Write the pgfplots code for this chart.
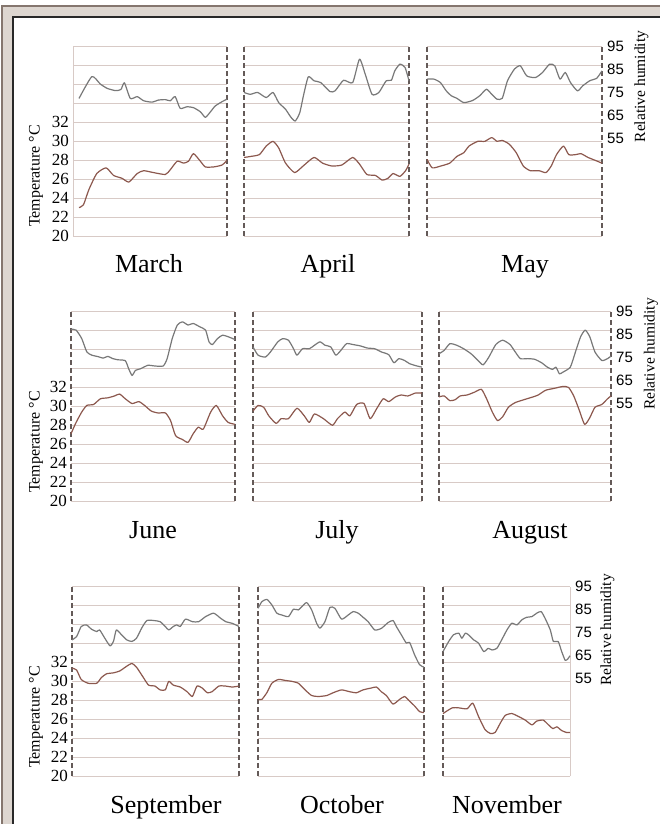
\documentclass[border=0pt]{standalone}
\usepackage{fontspec}
\setmainfont{Liberation Serif}
\newfontfamily\sansf{Liberation Sans}
\usepackage{pgfplots}
\pgfplotsset{compat=1.18}
\definecolor{gridc}{RGB}{216,202,198}
\definecolor{tempc}{RGB}{140,88,78}
\definecolor{humc}{RGB}{120,120,120}
\definecolor{dashc}{RGB}{100,90,88}
\definecolor{framebrown}{RGB}{133,118,110}
\definecolor{framebeige}{RGB}{221,214,208}
\definecolor{framedark}{RGB}{40,40,40}
\tikzset{
  dline/.style={dashc, line width=1.1bp, dash pattern=on 5bp off 3bp},
  tline/.style={tempc, line width=1.2bp, smooth, tension=0.35, line join=round},
  hline/.style={humc, line width=1.2bp, smooth, tension=0.35, line join=round},
}
\pgfplotsset{
  base/.style={scale only axis, height=189.3bp, anchor=north west, axis line style={draw=none}, xtick=\empty, major tick length=0pt, clip=false, /pgf/number format/assume math mode=true},
  tax/.style={base, ymin=20, ymax=40, ytick={20,22,...,40}, yticklabels={}, ymajorgrids, grid style={gridc, line width=0.9bp}},
  tleft/.style={yticklabels={20,22,24,26,28,30,32,{},{},{},{}}, yticklabel style={font=\fontsize{17bp}{17bp}\selectfont, inner sep=0pt, anchor=east, xshift=-4bp}},
  hax/.style={base, ymin=12.7, ymax=95, ytick=\empty},
  hright/.style={ytick={55,65,75,85,95}, yticklabels={55,65,75,85,95}, yticklabel pos=right, yticklabel style={font=\sansf\fontsize{15bp}{15bp}\selectfont, inner sep=0pt, anchor=west, xshift=5bp}},
}
\newcommand{\leftdash}{\draw[dline] (rel axis cs:0,0) -- (rel axis cs:0,1);}
\newcommand{\rightdash}{\draw[dline] (rel axis cs:1,0) -- (rel axis cs:1,1);}
\newcommand{\monthfont}{\fontsize{26bp}{26bp}\selectfont}
\newcommand{\labfont}{\fontsize{16bp}{16bp}\selectfont}
\newcommand{\rhfont}{\fontsize{15.5bp}{15.5bp}\selectfont}
\begin{document}
\begin{tikzpicture}
\path[use as bounding box] (0,0) rectangle (660bp,-824bp);
\fill[white] (0,0) rectangle (660bp,-824bp);
\fill[framebrown] (1bp,-5bp) rectangle (660bp,-824bp);
\fill[framebeige] (3.3bp,-7.3bp) rectangle (660bp,-824bp);
\fill[framedark] (12.3bp,-16bp) rectangle (660bp,-824bp);
\fill[white] (14.3bp,-18bp) rectangle (660bp,-824bp);

% ---------------- March
\begin{axis}[tax, tleft, at={(73bp,-46.7bp)}, width=154bp, xmin=-0.22, xmax=31]
\draw[gridc, line width=0.9bp] (rel axis cs:0,0) -- (rel axis cs:0,1);
\rightdash
\addplot[tline] coordinates {(1,23.0) (1.9,23.3) (3.0,24.9) (4.6,26.6) (6.5,27.2) (8.0,26.4) (9.7,26.1) (11.1,25.7) (12.8,26.6) (14.1,26.9) (16.1,26.7) (18.5,26.5) (19.5,27.0) (20.9,27.9) (22.2,27.7) (23.2,27.9) (24.2,28.7) (25.6,27.9) (26.6,27.3) (28.3,27.3) (30.0,27.5) (31,28.0)};
\end{axis}
\begin{axis}[hax, at={(73bp,-46.7bp)}, width=154bp, xmin=-0.22, xmax=31]
\addplot[hline] coordinates {(1,72.5) (3.6,82.0) (5.3,78.8) (6.7,76.9) (8.4,75.9) (9.5,76.4) (10.2,79.3) (11.4,72.5) (12.8,73.3) (14.1,71.5) (15.8,70.9) (17.1,71.8) (18.5,72.0) (19.5,71.5) (20.5,73.3) (21.5,68.2) (22.9,68.9) (24.2,68.5) (25.6,66.7) (26.6,64.3) (27.5,66.3) (28.6,69.2) (30.0,71.1) (31,72.2)};
\end{axis}

% ---------------- April
\begin{axis}[tax, at={(244bp,-46.7bp)}, width=165bp, xmin=1, xmax=30]
\leftdash \rightdash
\addplot[tline] coordinates {(1.0,28.3) (2.1,28.4) (3.7,28.6) (4.9,29.5) (6.1,30.0) (7.1,29.3) (8.3,27.7) (9.9,26.7) (11.4,27.4) (13.3,28.3) (14.8,27.7) (16.4,27.4) (18.2,27.5) (20.1,28.3) (21.3,27.6) (22.6,26.5) (24.1,26.4) (25.3,25.9) (26.3,26.1) (27.2,26.6) (28.4,26.3) (29.4,26.9) (30.0,27.6)};
\end{axis}
\begin{axis}[hax, at={(244bp,-46.7bp)}, width=165bp, xmin=1, xmax=30]
\addplot[hline] coordinates {(1.0,75.1) (2.1,74.3) (3.4,75.1) (4.9,72.9) (6.1,75.1) (7.1,70.7) (8.3,67.8) (9.2,64.5) (10.0,62.7) (10.8,66.3) (11.5,74.3) (12.3,81.9) (13.3,80.2) (14.5,79.4) (16.1,75.5) (17.0,75.8) (18.5,80.4) (20.1,79.4) (21.3,89.6) (22.3,83.1) (23.5,74.3) (24.7,75.1) (26.0,80.2) (26.9,80.4) (27.5,84.5) (28.4,87.4) (29.3,86.0) (30.0,80.2)};
\end{axis}

% ---------------- May
\begin{axis}[tax, at={(427bp,-46.7bp)}, width=175bp, xmin=1, xmax=31]
\leftdash \rightdash
\addplot[tline] coordinates {(1.0,28.1) (1.9,27.2) (3.4,27.4) (4.9,27.7) (6.1,28.4) (7.3,28.8) (8.2,29.5) (9.7,30.0) (10.9,30.0) (12.1,30.4) (13.0,30.0) (13.9,30.1) (15.1,29.7) (16.3,28.8) (17.5,27.4) (18.7,26.9) (20.2,26.9) (21.4,26.7) (22.3,27.4) (23.2,28.6) (24.4,29.5) (25.3,28.6) (26.5,28.6) (27.4,28.7) (28.6,28.3) (29.8,28.0) (31.0,27.7)};
\end{axis}
\begin{axis}[hax, hright, at={(427bp,-46.7bp)}, width=175bp, xmin=1, xmax=31]
\addplot[hline] coordinates {(1.0,80.9) (2.2,80.9) (3.3,79.4) (4.3,75.8) (5.2,73.6) (6.1,72.6) (7.3,70.7) (8.8,71.6) (10.0,73.6) (11.2,76.5) (12.1,74.3) (13.0,72.2) (13.9,72.6) (14.8,80.2) (16.0,85.3) (17.0,86.7) (18.1,82.3) (19.6,81.6) (20.8,83.8) (22.0,87.4) (22.9,86.7) (23.8,80.9) (24.7,83.8) (25.6,79.4) (26.8,75.8) (27.7,78.0) (28.9,80.2) (30.1,81.3) (31.0,84.5)};
\end{axis}

% ---------------- June
\begin{axis}[tax, tleft, at={(71bp,-311.7bp)}, width=164bp, xmin=1, xmax=30]
\leftdash \rightdash
\addplot[tline] coordinates {(1.0,27.1) (1.9,28.3) (2.9,29.4) (3.8,30.1) (5.0,30.2) (6.2,30.8) (7.5,30.9) (8.7,31.1) (9.6,31.3) (10.6,30.8) (11.8,30.3) (13.0,30.5) (14.0,30.1) (15.2,29.5) (16.4,29.3) (17.7,29.3) (18.6,28.5) (19.5,26.9) (20.7,26.5) (21.7,26.2) (22.6,27.1) (23.5,27.8) (24.4,27.6) (25.7,29.4) (26.7,30.1) (27.8,29.0) (28.8,28.3) (30.0,28.1)};
\end{axis}
\begin{axis}[hax, at={(71bp,-311.7bp)}, width=164bp, xmin=1, xmax=30]
\addplot[hline] coordinates {(1.0,87.4) (1.9,87.0) (2.9,83.3) (3.8,77.5) (4.7,76.1) (5.9,75.4) (6.7,74.8) (7.5,75.6) (8.4,74.6) (9.3,74.1) (10.6,73.7) (11.2,70.2) (11.8,67.3) (12.4,69.5) (13.3,70.2) (14.6,71.7) (15.8,71.4) (17.3,71.4) (18.0,74.6) (18.9,83.3) (19.8,89.2) (20.7,90.6) (21.7,89.2) (22.6,89.9) (23.8,88.4) (24.8,87.0) (25.4,81.9) (26.0,80.7) (26.9,83.3) (27.8,84.8) (28.8,84.1) (30.0,82.9)};
\end{axis}

% ---------------- July
\begin{axis}[tax, at={(253bp,-311.7bp)}, width=169bp, xmin=1, xmax=31]
\leftdash \rightdash
\addplot[tline] coordinates {(1.0,29.5) (1.9,30.1) (2.9,29.9) (3.8,29.0) (5.1,28.2) (6.0,28.7) (7.3,28.7) (8.8,29.8) (10.1,29.0) (11.0,28.3) (11.9,29.2) (13.5,28.7) (15.1,28.0) (16.0,28.7) (17.3,29.4) (18.2,29.0) (19.4,30.2) (20.7,30.3) (21.8,28.7) (22.9,29.7) (24.1,30.8) (25.1,30.5) (26.3,31.0) (27.3,31.2) (28.5,31.1) (29.8,31.4) (31.0,31.4)};
\end{axis}
\begin{axis}[hax, at={(253bp,-311.7bp)}, width=169bp, xmin=1, xmax=31]
\addplot[hline] coordinates {(1.0,79.7) (1.9,76.1) (3.2,75.3) (4.1,77.5) (5.4,81.9) (6.3,83.3) (7.3,82.6) (8.2,78.9) (8.8,76.1) (9.8,78.9) (11.0,78.9) (11.9,80.4) (12.9,81.9) (13.8,80.4) (14.8,79.7) (15.7,76.1) (16.6,78.2) (17.6,81.1) (18.8,80.7) (20.1,80.1) (21.3,79.2) (22.6,78.9) (23.8,77.5) (25.1,76.3) (26.0,72.8) (26.9,74.6) (27.9,73.8) (28.8,72.4) (30.1,71.4) (31.0,70.9)};
\end{axis}

% ---------------- August
\begin{axis}[tax, at={(439bp,-311.7bp)}, width=172bp, xmin=1, xmax=31]
\leftdash \rightdash
\addplot[tline] coordinates {(1.0,31.0) (1.9,31.1) (2.9,30.6) (3.8,30.7) (4.7,31.1) (5.9,31.2) (7.2,31.5) (8.4,31.8) (9.3,30.8) (10.3,29.4) (11.2,28.5) (12.1,28.9) (13.1,29.9) (14.3,30.4) (15.8,30.7) (17.4,31.0) (18.3,31.2) (19.6,31.7) (21.1,31.9) (22.6,32.1) (23.6,32.0) (24.5,31.1) (25.4,29.7) (26.4,28.1) (27.3,28.8) (28.2,29.9) (29.4,30.2) (30.4,30.8) (31.0,31.1)};
\end{axis}
\begin{axis}[hax, hright, at={(439bp,-311.7bp)}, width=172bp, xmin=1, xmax=31]
\addplot[hline] coordinates {(1.0,76.7) (1.9,78.2) (2.9,81.1) (4.1,80.4) (5.3,78.9) (6.6,76.7) (7.8,73.8) (8.7,71.9) (9.7,75.3) (10.9,80.7) (12.1,82.6) (13.4,80.7) (14.3,77.5) (15.2,74.6) (16.5,74.6) (17.7,74.3) (18.9,72.8) (19.9,70.9) (20.8,69.9) (21.4,70.9) (22.0,68.0) (22.6,68.7) (23.9,70.9) (24.8,77.5) (25.7,84.1) (26.5,87.0) (27.3,84.1) (28.2,77.5) (29.4,73.8) (30.4,74.6) (31.0,75.7)};
\end{axis}

% ---------------- September
\begin{axis}[tax, tleft, at={(72bp,-586.7bp)}, width=167bp, xmin=1, xmax=30]
\leftdash \rightdash
\addplot[tline] coordinates {(1.0,31.4) (1.8,31.2) (2.6,30.2) (3.8,29.8) (5.3,29.8) (6.1,30.4) (7.0,30.8) (8.2,30.9) (9.3,31.1) (10.5,31.6) (11.4,31.9) (12.2,31.5) (13.4,30.4) (14.3,29.6) (15.4,29.5) (16.3,29.1) (17.2,29.1) (17.8,30.0) (18.6,29.6) (19.8,29.4) (21.0,28.9) (21.9,28.4) (22.7,29.5) (23.6,29.3) (24.5,28.8) (25.3,28.9) (26.5,29.5) (27.7,29.5) (28.8,29.4) (30.0,29.5)};
\end{axis}
\begin{axis}[hax, at={(72bp,-586.7bp)}, width=167bp, xmin=1, xmax=30]
\addplot[hline] coordinates {(1.0,71.9) (1.8,73.3) (2.6,77.7) (3.5,78.4) (4.4,76.5) (5.3,75.5) (5.8,76.2) (6.7,72.6) (7.6,69.3) (8.2,71.2) (8.7,76.2) (9.6,74.1) (10.5,71.9) (11.4,71.2) (12.2,72.6) (13.1,77.0) (14.0,80.3) (15.2,80.3) (16.3,79.8) (17.2,77.7) (17.8,76.2) (18.6,77.7) (19.2,78.4) (19.8,77.7) (20.7,80.9) (21.9,79.8) (23.0,79.8) (24.2,82.0) (25.6,83.5) (26.8,81.3) (27.7,79.8) (28.8,79.1) (30.0,77.7)};
\end{axis}

% ---------------- October
\begin{axis}[tax, at={(258bp,-586.7bp)}, width=166bp, xmin=1, xmax=31]
\leftdash \rightdash
\addplot[tline] coordinates {(1.0,28.1) (1.7,28.1) (2.6,28.8) (3.5,29.8) (4.7,30.2) (5.9,30.1) (7.1,30.0) (8.3,29.8) (9.5,29.1) (10.7,28.5) (11.9,28.4) (13.4,28.5) (14.6,28.8) (16.1,29.1) (17.6,28.9) (18.8,28.8) (20.0,29.1) (21.5,29.3) (22.4,29.4) (23.3,28.9) (24.2,28.5) (25.4,27.6) (26.6,28.1) (27.5,28.4) (28.4,27.9) (29.3,27.4) (30.2,26.8) (31.0,26.7)};
\end{axis}
\begin{axis}[hax, at={(258bp,-586.7bp)}, width=166bp, xmin=1, xmax=31]
\addplot[hline] coordinates {(1.0,85.6) (1.7,88.5) (2.6,89.5) (3.5,87.1) (4.4,83.5) (5.3,82.7) (6.5,82.0) (7.4,85.2) (8.3,84.9) (8.9,86.3) (9.8,88.1) (10.7,84.9) (11.6,79.1) (12.2,77.0) (13.1,79.8) (14.0,86.0) (14.9,85.6) (16.1,80.9) (17.3,82.7) (18.2,84.2) (19.1,83.5) (20.0,81.7) (20.9,79.8) (22.1,76.2) (23.3,76.9) (24.5,79.4) (25.4,80.3) (26.0,77.7) (26.9,74.1) (27.8,70.5) (28.4,70.8) (29.3,65.4) (30.2,61.1) (31.0,60.0)};
\end{axis}

% ---------------- November
\begin{axis}[tax, at={(443bp,-586.7bp)}, width=127bp, xmin=1, xmax=30]
\leftdash
\draw[gridc, line width=0.9bp] (rel axis cs:1,0) -- (rel axis cs:1,1);
\addplot[tline] coordinates {(1.0,26.6) (3.1,27.2) (4.6,27.2) (6.5,27.1) (7.8,27.7) (9.1,26.3) (10.6,24.9) (11.8,24.5) (12.9,24.6) (14.1,25.6) (15.2,26.4) (16.7,26.6) (18.2,26.3) (19.8,25.9) (21.3,25.4) (22.4,25.8) (23.9,25.9) (25.1,25.4) (26.1,25.0) (27.0,25.2) (28.1,24.8) (29.2,24.6) (30.0,24.6)};
\end{axis}
\begin{axis}[hax, hright, at={(443bp,-586.7bp)}, width=127bp, xmin=1, xmax=30]
\addplot[hline] coordinates {(1.0,66.8) (2.3,71.2) (3.4,74.1) (4.6,74.8) (5.3,72.6) (6.1,74.8) (6.8,74.1) (8.0,71.9) (9.1,70.5) (10.3,66.8) (11.3,68.2) (12.2,67.5) (13.3,68.2) (14.4,71.9) (15.6,76.2) (16.7,79.1) (17.9,78.4) (19.0,80.6) (20.1,81.7) (21.3,82.0) (22.4,83.5) (23.4,84.2) (24.3,81.3) (25.5,76.2) (26.2,71.2) (27.3,71.2) (28.1,66.8) (28.9,63.0) (29.5,63.6) (30.0,65.0)};
\end{axis}

% ---------------- labels
\node[font=\monthfont, anchor=base] at (149bp,-272bp) {March};
\node[font=\monthfont, anchor=base] at (328bp,-272bp) {April};
\node[font=\monthfont, anchor=base] at (525bp,-272bp) {May};
\node[font=\monthfont, anchor=base] at (153bp,-538bp) {June};
\node[font=\monthfont, anchor=base] at (337bp,-538bp) {July};
\node[font=\monthfont, anchor=base] at (530bp,-538bp) {August};
\node[font=\monthfont, anchor=base] at (166bp,-813bp) {September};
\node[font=\monthfont, anchor=base] at (342bp,-813bp) {October};
\node[font=\monthfont, anchor=base] at (507bp,-813bp) {November};

\node[font=\labfont, rotate=90, inner sep=0pt] at (36bp,-176bp) {Temperature °C};
\node[font=\labfont, rotate=90, inner sep=0pt] at (36bp,-442bp) {Temperature °C};
\node[font=\labfont, rotate=90, inner sep=0pt] at (36bp,-717bp) {Temperature °C};

\node[font=\rhfont, rotate=90, inner sep=0pt] at (641.5bp,-86.5bp) {Relative humidity};
\node[font=\rhfont, rotate=90, inner sep=0pt] at (651bp,-354bp) {Relative humidity};
\node[font=\rhfont, rotate=90, inner sep=0pt] at (607.5bp,-630bp) {Relative humidity};
\end{tikzpicture}
\end{document}
